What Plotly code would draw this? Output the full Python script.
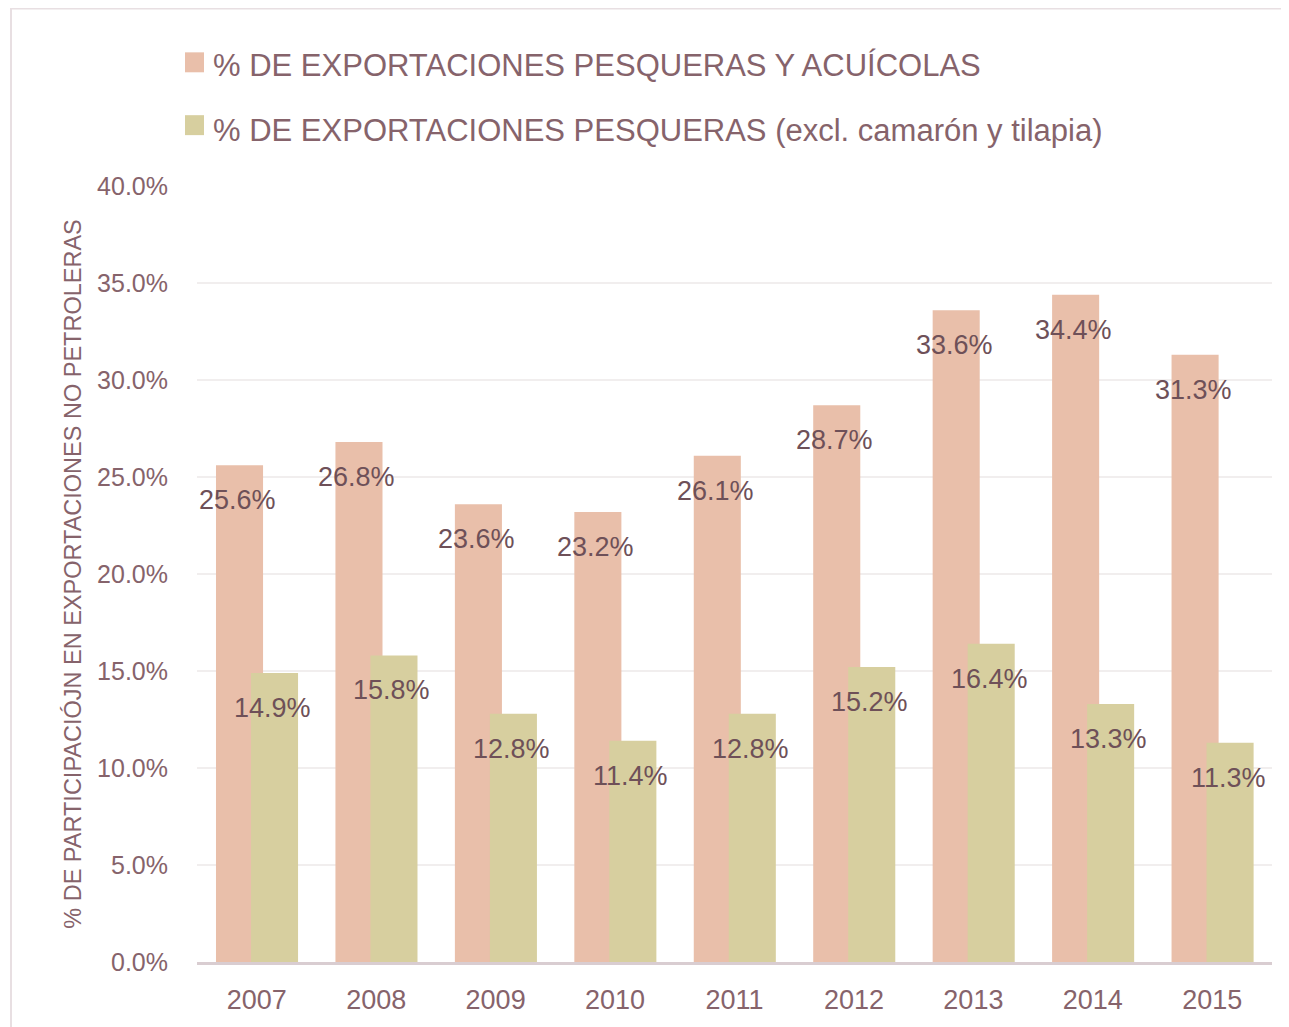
import plotly.graph_objects as go

years = ["2007", "2008", "2009", "2010", "2011", "2012", "2013", "2014", "2015"]
total_pct = [25.6, 26.8, 23.6, 23.2, 26.1, 28.7, 33.6, 34.4, 31.3]
excl_pct = [14.9, 15.8, 12.8, 11.4, 12.8, 15.2, 16.4, 13.3, 11.3]
series_names = ["% DE EXPORTACIONES PESQUERAS Y ACUÍCOLAS",
                "% DE EXPORTACIONES PESQUERAS (excl. camarón y tilapia)"]
y_title = "% DE PARTICIPACIÓJN EN EXPORTACIONES NO PETROLERAS"
y_ticks = [0, 5, 10, 15, 20, 25, 30, 35, 40]

PINK = "#E9BFAA"
OLIVE = "#D7CF9F"
TXT = "#86636B"
LBL = "#6E5058"
FONT = "Liberation Sans, Arial, sans-serif"

W = 0.394
OFF = [-0.341, -0.048]
xs = list(range(len(years)))

fig = go.Figure()
for vals, color, off, name in [(total_pct, PINK, OFF[0], series_names[0]),
                               (excl_pct, OLIVE, OFF[1], series_names[1])]:
    fig.add_trace(go.Bar(x=xs, y=vals, width=W, offset=off, name=name,
                         marker=dict(color=color, line=dict(width=0)),
                         showlegend=False, hoverinfo="y"))

annotations = []
for vals, off in [(total_pct, OFF[0]), (excl_pct, OFF[1])]:
    for i, v in enumerate(vals):
        annotations.append(dict(x=i + off + W / 2, y=v, xref="x", yref="y",
                                text=f"{v:.1f}%", showarrow=False, yshift=-35,
                                xshift=-2,
                                font=dict(size=27, color=LBL, family=FONT)))

# manual legend (positions in screen pixels relative to plot area)
PX0, PXW, PY0, PYH = 197, 1075, 964, 778
def px(x):
    return (x - PX0) / PXW
def py(y):
    return (PY0 - y) / PYH

shapes = []
for (y0, y1), color, name, ty in [((52, 72), PINK, series_names[0], 65),
                                  ((115, 135), OLIVE, series_names[1], 130)]:
    shapes.append(dict(type="rect", xref="paper", yref="paper",
                       x0=px(185), x1=px(204), y0=py(y1), y1=py(y0),
                       fillcolor=color, line=dict(width=0)))
    annotations.append(dict(x=px(211), y=py(ty), xref="paper", yref="paper",
                            xanchor="left", yanchor="middle", showarrow=False,
                            text=name, font=dict(size=31, color=TXT, family=FONT)))

# chart border
shapes.append(dict(type="rect", xref="paper", yref="paper",
                   x0=px(11), x1=px(1310), y0=py(1060), y1=py(8),
                   line=dict(color="#E8DFE2", width=2), fillcolor="rgba(0,0,0,0)"))

fig.update_layout(
    width=1281, height=1019,
    margin=dict(l=189, r=17, t=178, b=63),
    paper_bgcolor="white", plot_bgcolor="white",
    barmode="overlay",
    annotations=annotations, shapes=shapes,
    font=dict(family=FONT, color=TXT),
    xaxis=dict(range=[-0.5, 8.5], tickvals=xs, ticktext=years,
               tickfont=dict(size=27, color=TXT, family=FONT),
               showgrid=False, showline=True, linecolor="#D9CDD1", linewidth=3,
               ticks="", ticklabelstandoff=12, zeroline=False),
    yaxis=dict(range=[0, 40], tickvals=y_ticks,
               ticktext=[f"{t:.1f}%" for t in y_ticks],
               tickfont=dict(size=25, color=TXT, family=FONT),
               showgrid=True, gridcolor="#F1EEEE", gridwidth=2,
               zeroline=False, showline=False, ticks="", ticklabelstandoff=28,
               title=dict(text=y_title, standoff=8,
                          font=dict(size=23.5, color=TXT, family=FONT))),
)

fig.write_html("out.html")
